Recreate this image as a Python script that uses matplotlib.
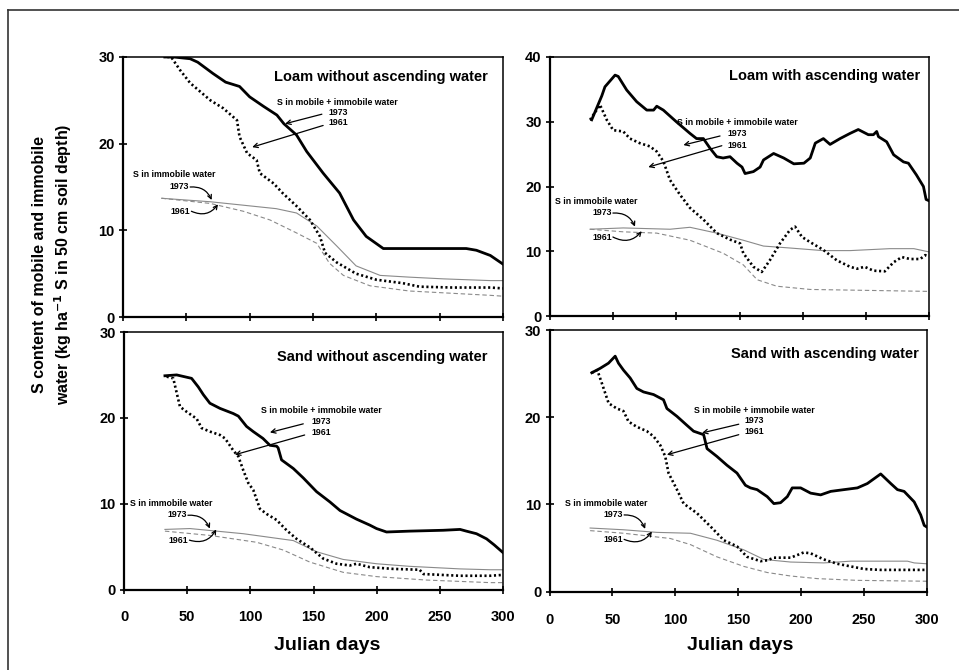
import matplotlib
matplotlib.use("Agg")
import matplotlib.pyplot as plt
from matplotlib.lines import Line2D

plt.rcParams['font.family'] = ['Liberation Sans', 'DejaVu Sans']
plt.rcParams['font.weight'] = 'bold'

# ---------------- data ----------------
titles = ["Loam without ascending water", "Loam with ascending water",
          "Sand without ascending water", "Sand with ascending water"]
y_limits = [30, 40, 30, 30]
x_ticks = [0, 50, 100, 150, 200, 250, 300]

# Panel A: Loam without ascending water
a_mob73_days = [33, 40, 53, 59, 71, 81, 92, 100, 111, 121.5, 127, 137, 145, 158, 171, 182, 192, 205.5, 230, 271, 279, 290, 300]
a_mob73_vals = [30.0, 30.0, 29.8, 29.4, 28.1, 27.1, 26.6, 25.4, 24.3, 23.3, 22.3, 21.0, 19.1, 16.6, 14.3, 11.2, 9.3, 7.9, 7.9, 7.9, 7.7, 7.1, 6.1]
a_mob61_days = [35, 38, 45, 53, 61, 69, 79, 90, 92, 98, 105.5, 108, 119, 126, 137, 147.6, 155.5, 159.5, 168.7, 184, 200, 221, 234, 260, 290, 300]
a_mob61_vals = [30.0, 30.0, 28.5, 27.0, 26.0, 25.0, 24.1, 22.7, 20.8, 18.9, 18.1, 16.6, 15.4, 14.3, 12.8, 11.2, 9.3, 7.4, 6.3, 5.0, 4.3, 3.9, 3.5, 3.4, 3.4, 3.3]
a_imm73_days = [30.5, 68.7, 95, 121, 137, 153, 168.7, 184, 203, 226, 253, 290, 300]
a_imm73_vals = [13.7, 13.3, 12.9, 12.5, 12.0, 10.5, 8.2, 5.9, 4.8, 4.6, 4.4, 4.2, 4.2]
a_imm61_days = [30.5, 69, 95, 116, 137, 153, 163, 174, 195, 226, 290, 300]
a_imm61_vals = [13.7, 13.1, 12.2, 11.2, 9.7, 8.5, 6.2, 4.8, 3.6, 3.0, 2.5, 2.4]

# Panel B: Loam with ascending water
b_mob73_days = [33, 41, 43.5, 51.5, 54, 60.7, 68.6, 76.6, 82, 84.5, 89.7, 100, 110.8, 116, 121.4, 126.7, 132, 137, 142.5, 148, 152, 154.4, 161, 166.3, 169, 177, 185, 193, 201, 206, 210, 216.4, 221.7, 229.6, 237.5, 244, 252, 256, 258.6, 260, 266.5, 272, 279.8, 283.7, 290, 295.6, 297.7, 300]
b_mob73_vals = [30.3, 34.0, 35.4, 37.2, 37.0, 34.9, 33.1, 31.8, 31.8, 32.4, 31.8, 30.0, 28.2, 27.4, 27.4, 25.9, 24.6, 24.4, 24.6, 23.6, 23.0, 22.0, 22.3, 23.0, 24.1, 25.1, 24.4, 23.5, 23.6, 24.4, 26.7, 27.4, 26.5, 27.4, 28.2, 28.8, 28.0, 28.0, 28.5, 27.7, 26.9, 24.9, 23.8, 23.6, 21.8, 20.0, 18.0, 17.8]
b_mob61_days = [31.7, 39.6, 44.9, 50, 58, 63.3, 71, 79, 84.5, 89.7, 95, 103, 110.8, 121.4, 132, 142.5, 150.5, 153, 161, 167.6, 174, 182, 190, 194, 199.5, 206, 216.4, 227, 237.5, 243, 249, 256, 265, 272, 278.5, 285, 293, 297, 300]
b_mob61_vals = [30.3, 32.6, 30.3, 28.7, 28.5, 27.4, 26.7, 26.2, 25.4, 23.9, 21.0, 18.7, 16.7, 14.9, 12.8, 11.8, 11.2, 9.7, 7.6, 6.8, 8.6, 11.2, 13.3, 13.8, 12.2, 11.4, 10.2, 8.6, 7.6, 7.3, 7.6, 7.0, 6.9, 8.3, 9.1, 8.8, 8.8, 9.4, 9.2]
b_imm73_days = [31.7, 58, 95, 110.8, 132, 153, 169, 190, 216, 237.5, 269, 288, 300]
b_imm73_vals = [13.4, 13.6, 13.4, 13.7, 12.8, 11.7, 10.8, 10.5, 10.1, 10.1, 10.4, 10.4, 9.9]
b_imm61_days = [31.7, 58, 84.5, 110.8, 137, 153, 164, 179.5, 206, 300]
b_imm61_vals = [13.4, 13.0, 12.8, 11.7, 9.7, 7.9, 5.6, 4.6, 4.1, 3.8]

# Panel C: Sand without ascending water
c_mob73_days = [32.4, 41.7, 53.5, 58.8, 62.8, 68, 76, 86.5, 90.5, 97, 102.3, 110, 115.5, 120.8, 122, 124.7, 134, 141.9, 152.4, 163, 171, 184, 194.6, 199.9, 207.8, 226, 252.6, 266, 271, 279, 281.7, 287, 293, 300]
c_mob73_vals = [24.9, 25.0, 24.6, 23.6, 22.7, 21.7, 21.1, 20.5, 20.2, 19.0, 18.4, 17.6, 16.8, 16.7, 16.5, 15.1, 14.1, 13.0, 11.4, 10.2, 9.2, 8.2, 7.5, 7.1, 6.7, 6.8, 6.9, 7.0, 6.8, 6.5, 6.3, 5.9, 5.2, 4.3]
c_mob61_days = [33.8, 39, 44.3, 49.6, 57.5, 61.5, 68, 76, 80, 86.5, 90.5, 94.4, 98.4, 102.3, 107.6, 112.9, 120.8, 128.7, 136.6, 147.2, 157.7, 168.3, 178.8, 184, 194.6, 213, 234, 237, 266, 289.6, 300]
c_mob61_vals = [24.8, 24.6, 21.3, 20.7, 19.9, 18.8, 18.4, 18.0, 17.6, 16.2, 15.5, 13.9, 12.4, 11.6, 9.4, 8.8, 8.1, 6.9, 5.9, 4.9, 3.6, 3.0, 2.8, 3.0, 2.6, 2.4, 2.3, 1.8, 1.6, 1.6, 1.7]
c_imm73_days = [32.4, 52.2, 94.4, 134, 152.4, 173.5, 199.9, 226, 266, 290, 300]
c_imm73_vals = [7.0, 7.1, 6.5, 5.7, 4.4, 3.5, 3.0, 2.7, 2.4, 2.3, 2.3]
c_imm61_days = [32.4, 68, 105, 126, 147, 173.5, 200, 239.5, 290, 300]
c_imm61_vals = [6.8, 6.3, 5.5, 4.6, 3.2, 2.0, 1.5, 1.1, 0.8, 0.8]

# Panel D: Sand with ascending water
d_mob73_days = [33.6, 40.2, 46.9, 52.2, 54.8, 58.8, 64.1, 69.4, 74.7, 82.7, 90.6, 93.3, 101.3, 109, 114.5, 122.5, 125.2, 133.1, 141, 149, 155.7, 159.7, 165, 173, 178.3, 183.6, 189, 192.9, 199.6, 207.5, 215.5, 223.5, 234, 244.7, 252.6, 263.2, 271.2, 276.5, 281.8, 289.8, 295, 297.8, 300]
d_mob73_vals = [25.1, 25.6, 26.2, 27.0, 26.2, 25.4, 24.5, 23.3, 22.9, 22.6, 22.0, 21.0, 20.1, 19.1, 18.4, 18.0, 16.4, 15.5, 14.5, 13.6, 12.2, 11.9, 11.7, 10.9, 10.1, 10.2, 10.9, 11.9, 11.9, 11.3, 11.1, 11.5, 11.7, 11.9, 12.4, 13.5, 12.4, 11.7, 11.5, 10.3, 8.8, 7.6, 7.4]
d_mob61_days = [33.6, 38, 41.6, 47, 53.5, 58.8, 62.8, 69.4, 77.4, 82.7, 88, 92, 94.6, 101.3, 106.6, 117.2, 127.8, 138.5, 149, 157, 167.7, 173, 178.3, 191.6, 196.9, 202, 207.5, 218, 228.7, 239.3, 250, 263, 300]
d_mob61_vals = [25.1, 25.4, 23.9, 21.6, 21.0, 20.7, 19.5, 18.9, 18.4, 17.8, 16.8, 15.5, 13.6, 11.7, 10.1, 9.0, 7.5, 5.9, 5.2, 4.0, 3.5, 3.6, 3.9, 3.9, 4.2, 4.5, 4.4, 3.7, 3.2, 2.9, 2.6, 2.5, 2.5]
d_imm73_days = [32.3, 58.8, 85.4, 112, 133, 154.4, 170.3, 191.6, 218, 239.3, 284.5, 289.8, 300]
d_imm73_vals = [7.3, 7.1, 6.8, 6.7, 5.9, 4.8, 3.7, 3.4, 3.3, 3.5, 3.5, 3.3, 3.2]
d_imm61_days = [32.3, 58.8, 96, 112, 133, 154.4, 173, 191.6, 212.8, 244.7, 300]
d_imm61_vals = [7.0, 6.7, 6.1, 5.4, 4.0, 2.9, 2.2, 1.8, 1.5, 1.3, 1.2]

series = [
    (a_mob73_days, a_mob73_vals, a_mob61_days, a_mob61_vals, a_imm73_days, a_imm73_vals, a_imm61_days, a_imm61_vals),
    (b_mob73_days, b_mob73_vals, b_mob61_days, b_mob61_vals, b_imm73_days, b_imm73_vals, b_imm61_days, b_imm61_vals),
    (c_mob73_days, c_mob73_vals, c_mob61_days, c_mob61_vals, c_imm73_days, c_imm73_vals, c_imm61_days, c_imm61_vals),
    (d_mob73_days, d_mob73_vals, d_mob61_days, d_mob61_vals, d_imm73_days, d_imm73_vals, d_imm61_days, d_imm61_vals),
]

# annotation placement (data coordinates) per panel
annot = [
    dict(title=(288, 27.7), mob=(169, 24.8), t73=(170, 23.6), t61=(170, 22.4),
         a73=((157, 23.4), (128, 22.3)), a61=((158, 22.1), (102, 19.6)),
         imm=(8, 16.4), i73=(52, 15.1), i73a=(70, 13.5), i61=(53, 12.2), i61a=(75, 13.0)),
    dict(title=(293, 37.1), mob=(148, 29.9), t73=(148, 28.2), t61=(148, 26.4),
         a73=((134.6, 27.8), (105.6, 26.4)), a61=((136, 26.3), (77.8, 23.0)),
         imm=(4, 17.7), i73=(48.8, 16.0), i73a=(67.3, 13.8), i61=(48.8, 12.2), i61a=(72.6, 13.1)),
    dict(title=(288, 27.1), mob=(156.4, 20.8), t73=(156.4, 19.6), t61=(156.4, 18.3),
         a73=((141.9, 19.3), (115.5, 18.3)), a61=((143, 18.0), (87.8, 15.7)),
         imm=(4.7, 10.0), i73=(49.6, 8.75), i73a=(68, 7.1), i61=(50.8, 5.75), i61a=(73, 7.0)),
    dict(title=(293.7, 27.3), mob=(162.9, 20.8), t73=(162.9, 19.6), t61=(162.9, 18.35),
         a73=((150.4, 19.2), (121.2, 18.2)), a61=((150.4, 18.0), (93.3, 15.7)),
         imm=(12.3, 10.1), i73=(58.3, 8.9), i73a=(76, 7.2), i61=(58.3, 6.0), i61a=(81.4, 6.9)),
]

W, H = 959, 670
fig = plt.figure(figsize=(W / 100, H / 100), dpi=100)

def fx(px):
    return px / W

def fy(py):
    return 1 - py / H

# axes rectangles (pixel coords: left, top, right, bottom)
rects = [(123, 57, 503, 317), (550, 57, 929, 316), (124, 332, 503, 589.5), (549.5, 330, 927, 591.7)]

for i, (l, t, r, b) in enumerate(rects):
    ax = fig.add_axes([fx(l), fy(b), (r - l) / W, (b - t) / H])
    m73d, m73v, m61d, m61v, i73d, i73v, i61d, i61v = series[i]
    ax.plot(i73d, i73v, color='#8a8a8a', lw=0.8, zorder=2)
    ax.plot(i61d, i61v, color='#8a8a8a', lw=0.8, dashes=(4, 2.5), zorder=2)
    ax.plot(m61d, m61v, color='black', lw=1.9, linestyle=(0, (0.8, 1.0)), zorder=3)
    ax.plot(m73d, m73v, color='black', lw=2.0, zorder=4)
    ax.set_xlim(0, 300)
    ax.set_ylim(0, y_limits[i])
    ax.set_xticks(x_ticks)
    ax.set_yticks(list(range(0, y_limits[i] + 1, 10)))
    ax.tick_params(direction='inout', length=6, width=1.2, labelsize=10.5, pad=3)
    ax.tick_params(axis='x', pad=12)
    for lab in ax.get_yticklabels() + ax.get_xticklabels():
        lab.set_fontweight('bold')
    if i < 2:
        ax.set_xticklabels([])
    ax.spines['left'].set_linewidth(1.6)
    ax.spines['bottom'].set_linewidth(1.6)
    ax.spines['top'].set_linewidth(1.1)
    ax.spines['right'].set_linewidth(1.1)

    an = annot[i]
    ax.text(*an['title'], titles[i], ha='right', va='center', fontsize=10.5, fontweight='bold')
    ax.text(*an['mob'], "S in mobile + immobile water", ha='center', va='center', fontsize=6.3, fontweight='bold')
    ax.text(*an['t73'], "1973", ha='center', va='center', fontsize=6.3, fontweight='bold')
    ax.text(*an['t61'], "1961", ha='center', va='center', fontsize=6.3, fontweight='bold')
    ap = dict(arrowstyle='->', lw=0.9, color='black', mutation_scale=8, shrinkA=0, shrinkB=0)
    ax.annotate('', xy=an['a73'][1], xytext=an['a73'][0], arrowprops=ap)
    ax.annotate('', xy=an['a61'][1], xytext=an['a61'][0], arrowprops=ap)
    ax.text(*an['imm'], "S in immobile water", ha='left', va='center', fontsize=6.3, fontweight='bold')
    ax.text(*an['i73'], "1973", ha='right', va='center', fontsize=6.3, fontweight='bold')
    ax.text(*an['i61'], "1961", ha='right', va='center', fontsize=6.3, fontweight='bold')
    x73, y73 = an['i73']
    ax.annotate('', xy=an['i73a'], xytext=(x73 + 1, y73 - 0.1),
                arrowprops=dict(arrowstyle='->', lw=0.9, color='black', mutation_scale=7,
                                shrinkA=0, shrinkB=0, connectionstyle='arc3,rad=-0.35'))
    x61, y61 = an['i61']
    ax.annotate('', xy=an['i61a'], xytext=(x61 + 1, y61),
                arrowprops=dict(arrowstyle='->', lw=0.9, color='black', mutation_scale=7,
                                shrinkA=0, shrinkB=0, connectionstyle='arc3,rad=0.4'))

# axis labels
fig.text(fx(327), fy(645), "Julian days", ha='center', va='center', fontsize=14, fontweight='bold')
fig.text(fx(740), fy(645), "Julian days", ha='center', va='center', fontsize=14, fontweight='bold')
fig.text(fx(53), fy(264), "S content of mobile and immobile\nwater (kg ha$^{\\mathbf{-1}}$ S in 50 cm soil depth)",
         rotation=90, ha='center', va='center', fontsize=11.5, fontweight='bold', linespacing=1.35)

# outer frame (left and top edges visible)
fig.add_artist(Line2D([fx(8), fx(8)], [fy(10), 0], color='#333333', lw=1.2))
fig.add_artist(Line2D([fx(8), 1], [fy(10), fy(10)], color='#333333', lw=1.2))

fig.savefig("out.png", dpi=100)
